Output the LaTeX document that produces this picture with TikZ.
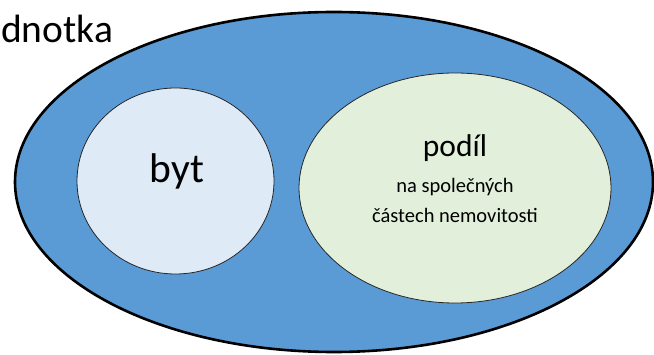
\documentclass[tikz,border=0pt]{standalone}
\usepackage{fontspec}
\setmainfont{Carlito}
\usetikzlibrary{shapes.geometric}
\definecolor{outerblue}{HTML}{5B9BD5}
\definecolor{bytfill}{HTML}{DEEAF6}
\definecolor{podilfill}{HTML}{E2EFDA}
\tikzset{
  oval/.style={ellipse, inner sep=0pt, outer sep=0pt},
  outerov/.style={oval, fill=outerblue, draw=black, line width=2.6pt},
  innerov/.style={oval, draw=black!85, line width=0.8pt},
  lbl/.style={inner sep=0pt, text=black},
}
\begin{document}
\begin{tikzpicture}[x=1pt, y=-1pt]
\useasboundingbox (0,0) rectangle (654,355);
\node[outerov, minimum width=638pt, minimum height=340pt] (unit) at (334,182) {};
\node[innerov, fill=bytfill, minimum width=197pt, minimum height=186pt] (byt) at (175.5,181) {};
\node[innerov, fill=podilfill, minimum width=312pt, minimum height=230pt] (podil) at (455,188) {};
\node[lbl, anchor=base west, font=\fontsize{39.5}{48}\selectfont] (title) at (1,43) {dnotka};
\node[lbl, anchor=base, font=\fontsize{41.5}{48}\selectfont] (byttext) at (177,183) {byt};
\node[lbl, anchor=base, font=\fontsize{31.5}{36}\selectfont] (podiltext) at (455,157) {podíl};
\node[lbl, anchor=base, font=\fontsize{20.5}{24}\selectfont] (line1) at (455,193) {na společných};
\node[lbl, anchor=base, font=\fontsize{20.5}{24}\selectfont] (line2) at (455,223) {částech nemovitosti};
\end{tikzpicture}
\end{document}
